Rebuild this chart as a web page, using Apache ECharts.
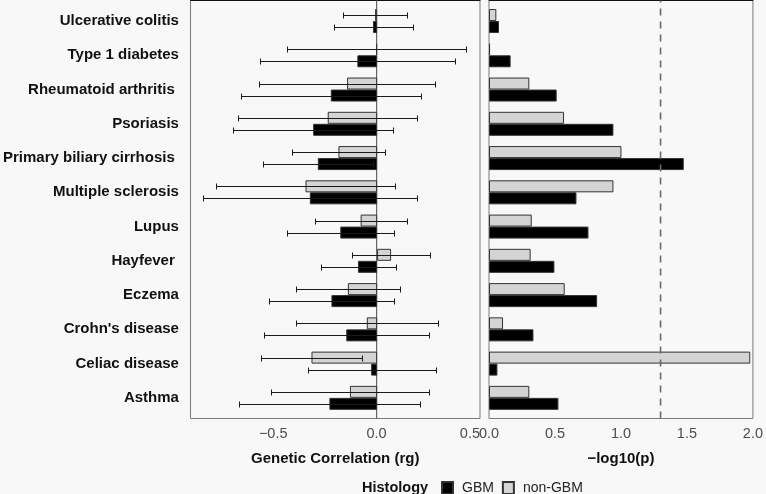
<!DOCTYPE html>
<html>
<head>
<meta charset="utf-8">
<script src="https://cdn.jsdelivr.net/npm/echarts@6/dist/echarts.min.js"></script>
<style>
html,body{margin:0;padding:0;background:#f8f8f8;}
#chart{width:766px;height:494px;}
</style>
</head>
<body>
<div id="chart"></div>
<script>
// ---- data (top to bottom) ----
const categories = ['Ulcerative colitis','Type 1 diabetes','Rheumatoid arthritis ','Psoriasis','Primary biliary cirrhosis ','Multiple sclerosis','Lupus','Hayfever ','Eczema',"Crohn's disease",'Celiac disease','Asthma'];

const rgGBM      = [-0.020,-0.096,-0.225,-0.311,-0.288,-0.327,-0.179,-0.093,-0.222,-0.150,-0.029,-0.232];
const rgGBMLow   = [-0.211,-0.570,-0.662,-0.701,-0.554,-0.846,-0.437,-0.275,-0.525,-0.548,-0.338,-0.669];
const rgGBMHigh  = [ 0.173, 0.379, 0.211, 0.078,-0.020, 0.195, 0.083, 0.092, 0.084, 0.253, 0.286, 0.208];

const rgNonGBM     = [-0.010,-0.005,-0.146,-0.240,-0.188,-0.348,-0.080, 0.068,-0.142,-0.050,-0.319,-0.132];
const rgNonGBMLow  = [-0.166,-0.438,-0.575,-0.674,-0.415,-0.781,-0.303,-0.120,-0.395,-0.395,-0.564,-0.514];
const rgNonGBMHigh = [ 0.144, 0.431, 0.282, 0.192, 0.037, 0.086, 0.144, 0.257, 0.112, 0.298,-0.072, 0.250];

const logpGBM    = [0.075,0.162,0.507,0.932,1.459,0.655,0.745,0.490,0.810,0.333,0.063,0.520];
const logpNonGBM = [0.055,0.008,0.302,0.562,0.992,0.932,0.320,0.312,0.567,0.105,1.957,0.302];

const threshold = 1.3;            // -log10(0.05)
const rgTicks = [-0.5, 0, 0.5];
const pTicks  = [0, 0.5, 1, 1.5, 2];

// ---- chart ----
const chart = echarts.init(document.getElementById('chart'), null, {renderer:'canvas'});
const FONT = 'Liberation Sans, Arial, Helvetica, sans-serif';
const BAR_W = 12;

function errSeries(name, low, high, dir){
  return {
    type:'custom', name:name, xAxisIndex:0, yAxisIndex:0, z:5,
    data: low.map((l,i)=>[l, i, high[i]]),
    encode:{x:[0,2], y:1},
    renderItem: function(params, api){
      const cat = api.value(1);
      const p1 = api.coord([api.value(0), cat]);
      const p2 = api.coord([api.value(2), cat]);
      const y = Math.round(p1[1] + dir*BAR_W/2) + 0.5;
      const x1 = Math.round(p1[0]) + 0.5, x2 = Math.round(p2[0]) + 0.5;
      const h = 3;
      const st = {stroke:'#1a1a1a', lineWidth:1};
      return {type:'group', children:[
        {type:'line', shape:{x1:x1, y1:y, x2:x2, y2:y}, style:st},
        {type:'line', shape:{x1:x1, y1:y-h, x2:x1, y2:y+h}, style:st},
        {type:'line', shape:{x1:x2, y1:y-h, x2:x2, y2:y+h}, style:st}
      ]};
    }
  };
}

const frameStyle = {show:true, borderColor:'#7a7a7a', borderWidth:1, backgroundColor:'transparent'};
const tickLabelStyle = {fontFamily:FONT, fontSize:14.5, color:'#4d4d4d', margin:8};
const nameStyle = {fontFamily:FONT, fontSize:15, fontWeight:'bold', color:'#111'};

const option = {
  backgroundColor:'#f8f8f8',
  animation:false,
  textStyle:{fontFamily:FONT},
  title:{text:'Histology', left:357, top:475, textStyle:{fontFamily:FONT, fontSize:14.5, fontWeight:'bold', color:'#111'}},
  legend:{
    data:['GBM','non-GBM'], left:436, top:476, icon:'rect', itemWidth:11, itemHeight:12, itemGap:8,
    textStyle:{fontFamily:FONT, fontSize:14, color:'#222', padding:[0,0,0,4]}, selectedMode:false
  },
  grid:[
    {left:190.5, top:3.9, width:289.5, height:411.1},
    {left:489,   top:3.9, width:267,   height:411.1},
    Object.assign({left:190.5, top:0.5, width:289.5, height:418}, frameStyle),
    Object.assign({left:489,   top:0.5, width:267,   height:418}, frameStyle)
  ],
  xAxis:[
    {gridIndex:0, type:'value', min:-0.9, max:0.5, show:false},
    {gridIndex:1, type:'value', min:0, max:2, show:false},
    {gridIndex:2, type:'value', min:-0.9, max:0.5, interval:0.1,
     axisLine:{show:false}, axisTick:{show:false}, splitLine:{show:false},
     axisLabel:Object.assign({}, tickLabelStyle, {alignMaxLabel:'right',
       formatter:function(v){
         for(const t of rgTicks){ if(Math.abs(v-t)<1e-6) return t.toFixed(1).replace('-', '\u2212'); }
         return '';
       }}),
     name:'Genetic Correlation (rg)', nameLocation:'middle', nameGap:33, nameTextStyle:nameStyle},
    {gridIndex:3, type:'value', min:0, max:2, interval:0.5,
     axisLine:{show:false}, axisTick:{show:false}, splitLine:{show:false},
     axisLabel:Object.assign({}, tickLabelStyle, {
       formatter:function(v){
         for(const t of pTicks){ if(Math.abs(v-t)<1e-6) return t.toFixed(1); }
         return '';
       }}),
     name:'\u2212log10(p)', nameLocation:'middle', nameGap:33, nameTextStyle:nameStyle},
    {gridIndex:2, type:'value', position:'top', min:-0.9, max:0.5, axisLine:{show:true, onZero:false, lineStyle:{color:'#111', width:1}}, axisTick:{show:false}, axisLabel:{show:false}, splitLine:{show:false}},
    {gridIndex:3, type:'value', position:'top', min:0, max:2, axisLine:{show:true, onZero:false, lineStyle:{color:'#111', width:1}}, axisTick:{show:false}, axisLabel:{show:false}, splitLine:{show:false}}
  ],
  yAxis:[
    {gridIndex:0, type:'category', data:categories, inverse:true,
     axisLine:{show:false}, axisTick:{show:false}, splitLine:{show:false},
     axisLabel:{fontFamily:FONT, fontSize:15, fontWeight:'bold', color:'#111', margin:13}},
    {gridIndex:1, type:'category', data:categories, inverse:true, show:false},
    {gridIndex:2, type:'value', min:0, max:1, show:false},
    {gridIndex:3, type:'value', min:0, max:1, show:false}
  ],
  series:[
    {type:'line', xAxisIndex:2, yAxisIndex:2, data:[[0,0],[0,1]], symbol:'none', silent:true, z:1,
     lineStyle:{color:'#666', width:1.2}},
    {type:'line', xAxisIndex:3, yAxisIndex:3, data:[[threshold,0],[threshold,1]], symbol:'none', silent:true, z:6,
     lineStyle:{color:'#6a6a6a', width:1.6, type:[7,6]}},
    {type:'bar', name:'non-GBM', xAxisIndex:0, yAxisIndex:0, data:rgNonGBM, barWidth:BAR_W, barGap:'0%', z:3,
     itemStyle:{color:'#d4d4d4', borderColor:'#333', borderWidth:1}},
    {type:'bar', name:'GBM', xAxisIndex:0, yAxisIndex:0, data:rgGBM, barWidth:BAR_W, barGap:'0%', z:3,
     itemStyle:{color:'#000', borderColor:'#333', borderWidth:1}},
    {type:'bar', name:'non-GBM', xAxisIndex:1, yAxisIndex:1, data:logpNonGBM, barWidth:BAR_W, barGap:'0%', z:3,
     itemStyle:{color:'#d4d4d4', borderColor:'#333', borderWidth:1}},
    {type:'bar', name:'GBM', xAxisIndex:1, yAxisIndex:1, data:logpGBM, barWidth:BAR_W, barGap:'0%', z:3,
     itemStyle:{color:'#000', borderColor:'#333', borderWidth:1}},
    errSeries('non-GBM CI', rgNonGBMLow, rgNonGBMHigh, -1),
    errSeries('GBM CI', rgGBMLow, rgGBMHigh, 1)
  ]
};
chart.setOption(option);
</script>
</body>
</html>
